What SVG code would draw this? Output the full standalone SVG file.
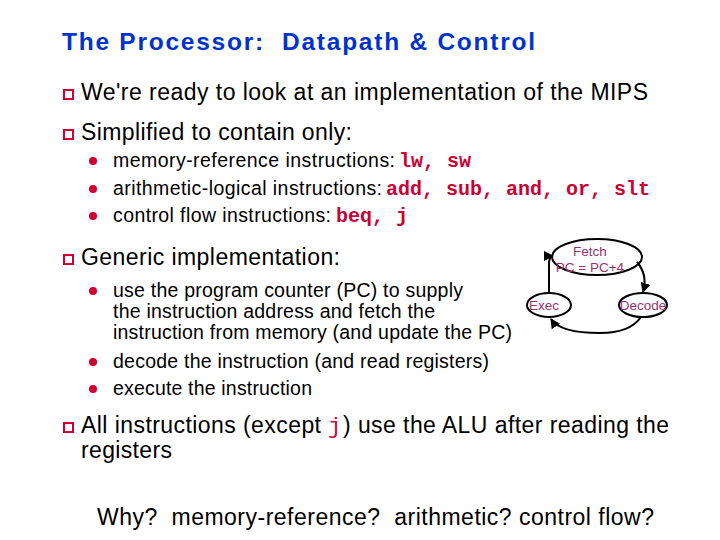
<svg xmlns="http://www.w3.org/2000/svg" width="720" height="540" viewBox="0 0 720 540">
<defs>
<style>
text{white-space:pre}
.t{font-family:"Liberation Sans",Arial,sans-serif;fill:#000}
.l1{font-size:23px}
.l2{font-size:19.5px}
.code{font-family:"Liberation Mono","Courier New",monospace;font-weight:bold;font-size:20px;fill:#CC0033}
.sq{fill:#fff;stroke:#CC0033;stroke-width:2}
.dot{fill:#CC0033}
.node{fill:none;stroke:#000;stroke-width:2}
.nl{font-family:"Liberation Sans",Arial,sans-serif;font-size:13.5px;fill:#993366;text-anchor:middle}
.edge{fill:none;stroke:#000;stroke-width:2}
</style>
<marker id="ah" viewBox="0 0 10 10" refX="9" refY="5" markerWidth="5" markerHeight="5" orient="auto">
<path d="M0,0 L10,5 L0,10 z" fill="#000"/>
</marker>
</defs>
<rect width="720" height="540" fill="#fff"/>
<text x="62" y="50" font-family="Liberation Sans,Arial,sans-serif" font-size="24.5" font-weight="bold" fill="#0033CC" textLength="473" lengthAdjust="spacing">The Processor:  Datapath &amp; Control</text>

<rect class="sq" x="64" y="90" width="9" height="9"/>
<text class="t l1" x="81" y="100" textLength="567" lengthAdjust="spacing">We're ready to look at an implementation of the MIPS</text>
<rect class="sq" x="64" y="130" width="9" height="9"/>
<text class="t l1" x="81" y="140" textLength="271" lengthAdjust="spacing">Simplified to contain only:</text>

<circle class="dot" cx="93" cy="161" r="4"/>
<text class="t l2" x="113" y="167" textLength="282" lengthAdjust="spacing">memory-reference instructions:</text>
<text class="code" x="399" y="167">lw, sw</text>
<circle class="dot" cx="93" cy="189" r="4"/>
<text class="t l2" x="113" y="195" textLength="269" lengthAdjust="spacing">arithmetic-logical instructions:</text>
<text class="code" x="386" y="195">add, sub, and, or, slt</text>
<circle class="dot" cx="93" cy="216" r="4"/>
<text class="t l2" x="113" y="222" textLength="218" lengthAdjust="spacing">control flow instructions:</text>
<text class="code" x="336" y="222">beq, j</text>

<rect class="sq" x="64" y="255" width="9" height="9"/>
<text class="t l1" x="81" y="265" textLength="259" lengthAdjust="spacing">Generic implementation:</text>
<circle class="dot" cx="93" cy="291" r="4"/>
<text class="t l2" x="113" y="297" textLength="350" lengthAdjust="spacing">use the program counter (PC) to supply</text>
<text class="t l2" x="113" y="318" textLength="322" lengthAdjust="spacing">the instruction address and fetch the</text>
<text class="t l2" x="113" y="339" textLength="399" lengthAdjust="spacing">instruction from memory (and update the PC)</text>
<circle class="dot" cx="93" cy="362" r="4"/>
<text class="t l2" x="113" y="368" textLength="376" lengthAdjust="spacing">decode the instruction (and read registers)</text>
<circle class="dot" cx="93" cy="389" r="4"/>
<text class="t l2" x="113" y="395" textLength="199" lengthAdjust="spacing">execute the instruction</text>

<rect class="sq" x="64" y="423" width="9" height="9"/>
<text class="t l1" x="81" y="433" textLength="240" lengthAdjust="spacing">All instructions (except</text>
<text class="code" x="328" y="433" style="font-weight:normal;font-size:22px">j</text>
<text class="t l1" x="343" y="433" textLength="326" lengthAdjust="spacing">) use the ALU after reading the</text>
<text class="t l1" x="81" y="458" textLength="91" lengthAdjust="spacing">registers</text>

<text class="t l1" x="97" y="525" textLength="557" lengthAdjust="spacing">Why?  memory-reference?  arithmetic? control flow?</text>

<g id="edges">
<path class="edge" d="M549,294 L549,262 Q550,256 553,256" marker-end="url(#ah)"/>
<path class="edge" d="M637,262 Q648,275 643,292" marker-end="url(#ah)"/>
<path class="edge" d="M641,317 Q630,333 600,333 Q560,333 551,319" marker-end="url(#ah)"/>
</g>
<g id="fetch">
<ellipse class="node" cx="597" cy="257" rx="45" ry="18"/>
<text class="nl" x="590" y="256">Fetch</text>
<text class="nl" x="590" y="272">PC = PC+4</text>
</g>
<g id="exec">
<ellipse class="node" cx="549" cy="305" rx="22" ry="12"/>
<text class="nl" x="544" y="310">Exec</text>
</g>
<g id="decode">
<ellipse class="node" cx="643" cy="305" rx="24" ry="12"/>
<text class="nl" x="643" y="310">Decode</text>
</g>
</svg>
